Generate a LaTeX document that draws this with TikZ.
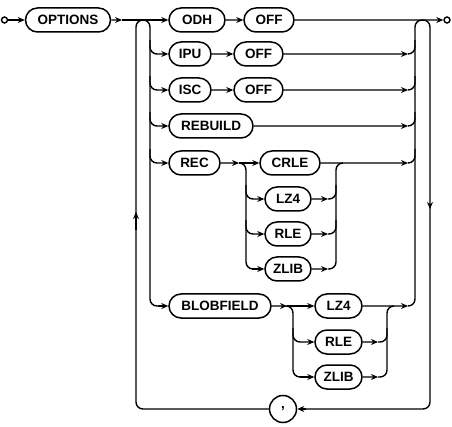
\documentclass[tikz,border=0pt]{standalone}
\usepackage{fontspec}
\setmainfont{Liberation Sans}
\usetikzlibrary{arrows.meta,shapes.misc}
\tikzset{
  term/.style={draw, rounded rectangle, line width=1.5pt, minimum height=24pt, inner xsep=2pt, inner ysep=0pt, font=\fontsize{13.5}{15}\selectfont\bfseries},
  conn/.style={line width=1.4pt, rounded corners=7pt},
  arr/.style={conn, -{Stealth[length=7pt,width=6pt]}},
  dot/.style={draw, circle, line width=1.4pt, minimum size=6pt, inner sep=0pt},
}
\begin{document}
\begin{tikzpicture}[x=1pt,y=-1pt]
\useasboundingbox (0,0) rectangle (452,427);
% terminal circles
\node[dot] (s) at (4.5,20) {};
\node[dot] (e) at (447,20) {};
% nodes
\node[term, minimum width=89pt] (opt) at (68,20) {OPTIONS};
\node[term, minimum width=60pt] (odh) at (197,20) {ODH};
\node[term, minimum width=54pt] (off1) at (269,20) {OFF};
\node[term, minimum width=46pt] (ipu) at (190,54) {IPU};
\node[term, minimum width=53pt] (off2) at (258.5,54) {OFF};
\node[term, minimum width=46pt] (isc) at (190,90) {ISC};
\node[term, minimum width=53pt] (off3) at (258.5,90) {OFF};
\node[term, minimum width=88pt] (reb) at (211,126) {REBUILD};
\node[term, minimum width=55pt] (rec) at (194.5,163) {REC};
\node[term, minimum width=64pt] (crle) at (290,163) {CRLE};
\node[term, minimum width=50pt] (lza) at (288,199) {LZ4};
\node[term, minimum width=50pt] (rlea) at (288,234) {RLE};
\node[term, minimum width=50pt] (zla) at (288,269) {ZLIB};
\node[term, minimum width=106pt] (blob) at (220,306) {BLOBFIELD};
\node[term, minimum width=51pt] (lzb) at (338.5,306) {LZ4};
\node[term, minimum width=51pt] (rleb) at (338.5,342) {RLE};
\node[term, minimum width=51pt] (zlb) at (338.5,377) {ZLIB};
\node[term, circle, minimum size=27pt, inner sep=0pt] (comma) at (283,409) {,};
% junction coordinates
\coordinate (a1) at (122,20);
\coordinate (recA) at (239,163);
\coordinate (blobA) at (287,306);
\coordinate (rA) at (408,54);
\coordinate (rB) at (408,90);
\coordinate (rC) at (408,126);
\coordinate (rD) at (408,163);
\coordinate (rE) at (408,306);
\coordinate (cA) at (328,199);
\coordinate (cB) at (328,234);
\coordinate (cC) at (328,269);
\coordinate (dB) at (378,342);
\coordinate (dC) at (378,377);
% main line
\draw[arr] (s) -- (opt);
\draw[arr] (opt) -- (a1);
\draw[arr] (a1) -- (odh);
\draw[arr] (odh) -- (off1);
\draw[arr] (off1) -- (e);
% left branch line
\draw[conn] (143,20) -| (150,306) -- (158,306);
\draw[arr] (150,40) |- (ipu.west);
\draw[arr] (150,76) |- (isc.west);
\draw[arr] (150,112) |- (reb.west);
\draw[arr] (150,149) |- (rec.west);
\draw[arr] (158,306) -- (blob.west);
\draw[arr] (ipu) -- (off2);
\draw[arr] (isc) -- (off3);
% right collector
\draw[arr] (off2) -- (rA);
\draw[arr] (off3) -- (rB);
\draw[arr] (reb) -- (rC);
\draw[conn] (rA) -| (415,40);
\draw[conn] (rB) -| (415,76);
\draw[conn] (rC) -| (415,112);
\draw[conn] (rD) -| (415,149);
\draw[conn] (rE) -| (415,20) -- (422,20);
% REC group
\draw[arr] (rec) -- (recA);
\draw[arr] (recA) -- (crle);
\draw[conn] (239,163) -| (246,269) -- (252,269);
\draw[arr] (246,185) |- (lza.west);
\draw[arr] (246,220) |- (rlea.west);
\draw[arr] (252,269) -- (zla.west);
\draw[arr] (lza) -- (cA);
\draw[arr] (rlea) -- (cB);
\draw[arr] (zla) -- (cC);
\draw[conn] (cC) -| (336,163) -- (343,163);
\draw[conn] (cA) -| (336,185);
\draw[conn] (cB) -| (336,220);
\draw[arr] (crle) -- (rD);
% BLOBFIELD group
\draw[arr] (blob) -- (blobA);
\draw[arr] (blobA) -- (lzb);
\draw[conn] (blobA) -| (293,377) -- (300,377);
\draw[arr] (293,328) |- (rleb.west);
\draw[arr] (300,377) -- (zlb.west);
\draw[arr] (rleb) -- (dB);
\draw[arr] (zlb) -- (dC);
\draw[conn] (dC) -| (387,306) -- (394,306);
\draw[conn] (dB) -| (387,328);
\draw[arr] (lzb) -- (rE);
% loop
\draw[arr] (422,20) -| (430,209);
\draw[conn] (430,205) |- (306,409);
\draw[arr] (306,409) -- (comma);
\draw[conn] (comma) -| (136,220);
\draw[arr] (136,230) -- (136,212);
\draw[conn] (136,214) |- (143,20);
\end{tikzpicture}
\end{document}
